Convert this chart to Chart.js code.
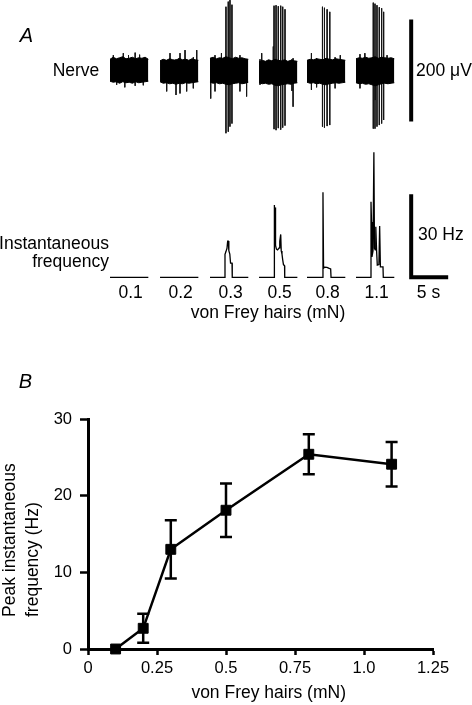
<!DOCTYPE html>
<html><head><meta charset="utf-8">
<script src="https://cdn.jsdelivr.net/npm/chart.js@4.4.1/dist/chart.umd.min.js"></script>
<style>
html,body{margin:0;padding:0;background:#fff;}
#wrap{position:relative;width:472px;height:705px;overflow:hidden;font-family:"Liberation Sans",Arial,Helvetica,sans-serif;color:#000;}
canvas{position:absolute;left:0;}
.t{position:absolute;white-space:nowrap;line-height:1;font-size:17.5px;transform:translate(-50%,-50%);}
</style></head><body>
<div id="wrap">
<canvas id="nerve" width="472" height="140" style="top:0px"></canvas>
<canvas id="freq" width="472" height="190" style="top:140px"></canvas>
<canvas id="peak" width="472" height="325" style="top:380px"></canvas>
</div>
<script>
// ---------------- DATA ----------------
// Panel A: von Frey hair forces (mN), one sweep each
const forceLabels = ['0.1', '0.2', '0.3', '0.5', '0.8', '1.1'];
const stimOnsetS = [0, 6.76, 13.51, 20.14, 26.62, 33.24];   // start of each sweep (s, display time)
const sweepS = 5.18;                                          // sweep length (s)

// nerve recording: envelope of background noise (µV), evenly sampled across each sweep
const nerveUpperUV = [
  [22, 26, 23, 25, 27, 23, 24, 26, 23, 25, 24, 26, 22],
  [19, 22, 20, 23, 21, 20, 24, 21, 22, 20, 23, 21, 20],
  [24, 26, 23, 25, 24, 27, 25, 23, 26, 24, 25, 23, 22],
  [17, 20, 18, 21, 19, 22, 20, 19, 21, 18, 20, 19, 18],
  [20, 22, 21, 23, 22, 21, 24, 22, 21, 23, 22, 21, 20],
  [23, 25, 24, 26, 24, 25, 27, 24, 26, 25, 24, 25, 23]
];
const nerveLowerUV = [
  [-21, -23, -22, -25, -22, -24, -23, -25, -22, -24, -23, -22, -21],
  [-22, -25, -24, -26, -25, -27, -25, -26, -24, -25, -24, -23, -22],
  [-23, -25, -24, -26, -25, -27, -28, -26, -25, -24, -26, -25, -23],
  [-24, -26, -25, -27, -26, -29, -30, -28, -27, -26, -27, -25, -24],
  [-23, -25, -24, -26, -25, -27, -28, -26, -25, -24, -25, -24, -23],
  [-24, -26, -25, -27, -26, -28, -30, -28, -26, -25, -26, -25, -24]
];
// individual spikes / noise excursions: [time in sweep (s), max µV, min µV]
const nerveSpikesUV = [
  [[0.45, 30, -18], [0.9, 20, -28], [1.8, 34, -18], [2.0, 20, -33], [2.5, 30, -20], [3.4, 35, -30], [4.0, 31, -20], [4.5, 22, -29]],
  [[0.9, 20, -41], [1.35, 34, -20], [2.16, 22, -48], [2.7, 34, -45], [3.38, 40, -20], [3.6, 22, -41], [4.5, 26, -35], [4.96, 40, -20]],
  [[0.1, 22, -55], [0.68, 30, -41], [1.55, 34, -22], [2.16, 125, -123], [2.47, 135, -120], [2.7, 138, -110], [2.97, 129, -104], [4.05, 30, -41], [4.95, 22, -51]],
  [[0.13, 22, -28], [0.36, 34, -22], [1.93, 47, -25], [2.03, 127, -115], [2.3, 128, -117], [2.6, 126, -113], [2.93, 127, -116], [3.2, 125, -112], [3.51, 120, -108], [4.45, 22, -40], [4.6, 24, -71]],
  [[0.6, 34, -38], [1.3, 24, -33], [2.09, 125, -110], [2.36, 123, -112], [2.72, 120, -109], [3.08, 115, -107], [3.8, 26, -35], [4.5, 30, -24]],
  [[0.54, 32, -35], [1.2, 34, -24], [2.34, 133, -114], [2.57, 131, -114], [2.6, 24, -58], [2.84, 128, -110], [3.15, 124, -107], [3.47, 122, -104], [3.74, 115, -97], [4.2, 30, -26]]
];
// instantaneous frequency traces: [time in sweep (s), Hz]
const instFreqHz = [
  [[0, 0], [5.18, 0]],
  [[0, 0], [5.18, 0]],
  [[0, 0], [2.03, 0], [2.03, 8.3], [2.16, 9.3], [2.3, 10.5], [2.39, 13.1], [2.47, 13.1], [2.55, 9.6], [2.68, 8.4], [2.78, 5.1], [2.98, 5.1], [3.01, 0], [5.18, 0]],
  [[0, 0], [2.03, 0], [2.03, 26.1], [2.12, 25.6], [2.16, 24.5], [2.2, 25.2], [2.26, 11.5], [2.35, 10.2], [2.5, 9.9], [2.72, 10.6], [2.8, 13.0], [2.93, 15.5], [3.0, 9.5], [3.1, 8.4], [3.2, 6.3], [3.3, 4.6], [3.45, 4.2], [3.47, 0], [5.18, 0]],
  [[0, 0], [2.16, 0], [2.16, 30.7], [2.24, 3.3], [2.4, 3.7], [2.7, 3.6], [3.0, 3.2], [3.2, 3.0], [3.25, 0], [5.18, 0]],
  [[0, 0], [2.03, 0], [2.03, 27.3], [2.1, 20], [2.16, 7.4], [2.3, 9.5], [2.42, 45.2], [2.5, 10.5], [2.6, 9.9], [2.68, 18.3], [2.78, 10], [2.88, 4.4], [3.1, 4.6], [3.2, 18.5], [3.3, 3.8], [3.65, 3.8], [3.69, 0], [5.18, 0]]
];
const nerveBarUV = 200, freqBarHz = 30, timeBarS = 5;

// Panel B: peak instantaneous frequency vs force (mean ± SEM)
const vonFreyMN = [0.1, 0.2, 0.3, 0.5, 0.8, 1.1];
const peakFreqHz = [0, 2.7, 13.0, 18.1, 25.4, 24.1];
const peakSemHz = [0, 1.9, 3.8, 3.5, 2.6, 2.9];
const xTickValues = [0, 0.25, 0.5, 0.75, 1.0, 1.25];
const xTickLabels = ['0', '0.25', '0.5', '0.75', '1.0', '1.25'];
const yTickValues = [0, 10, 20, 30];

// ---------------- LAYOUT ----------------
const FONT = '"Liberation Sans", Arial, Helvetica, sans-serif';
const PX_PER_S = 7.4, TRACE_LEFT_PX = 110;
const xMinS = -TRACE_LEFT_PX / PX_PER_S, xMaxS = xMinS + 472 / PX_PER_S;
const BAR_AT_S = 40.7;
const wrap = document.getElementById('wrap');

function addText(txt, x, y, style) {
  const d = document.createElement('div');
  d.className = 't';
  d.textContent = txt;
  d.style.left = x + 'px';
  d.style.top = y + 'px';
  Object.assign(d.style, style || {});
  wrap.appendChild(d);
  return d;
}

const baseOpts = (ymin, ymax) => ({
  responsive: false, animation: false, events: [],
  layout: { padding: 0 },
  plugins: { legend: { display: false }, tooltip: { enabled: false } },
  scales: {
    x: { type: 'linear', min: xMinS, max: xMaxS, display: false },
    y: { type: 'linear', min: ymin, max: ymax, display: false }
  }
});

// Nerve chart
const nerveSets = [];
stimOnsetS.forEach((t0, i) => {
  const n = nerveUpperUV[i].length;
  const tt = j => t0 + sweepS * j / (n - 1);
  nerveSets.push({ data: nerveUpperUV[i].map((v, j) => ({ x: tt(j), y: v })), fill: '+1',
    backgroundColor: '#000', borderColor: '#000', borderWidth: 1, pointRadius: 0 });
  nerveSets.push({ data: nerveLowerUV[i].map((v, j) => ({ x: tt(j), y: v })), fill: false,
    borderColor: '#000', borderWidth: 1, pointRadius: 0 });
  const sp = [];
  nerveSpikesUV[i].forEach(([t, hi, lo]) => { sp.push({ x: t0 + t, y: hi }, { x: t0 + t, y: lo }, { x: t0 + t, y: null }); });
  nerveSets.push({ data: sp, borderColor: '#151515', borderWidth: 1, pointRadius: 0, fill: false, spanGaps: false });
});
nerveSets.push({ data: [{ x: BAR_AT_S, y: -nerveBarUV / 2 }, { x: BAR_AT_S, y: nerveBarUV / 2 }],
  borderColor: '#000', borderWidth: 4, pointRadius: 0, fill: false });
new Chart(document.getElementById('nerve'), { type: 'line', data: { datasets: nerveSets },
  options: baseOpts(70.5 / 0.51 - 140 / 0.51, 70.5 / 0.51) });

// Frequency chart
const fPxPerHz = 83 / 30;
const freqSets = instFreqHz.map((pts, i) => ({ data: pts.map(([t, hz]) => ({ x: stimOnsetS[i] + t, y: hz })),
  borderColor: '#000', borderWidth: 1.3, pointRadius: 0, fill: false }));
freqSets.push({ data: [{ x: BAR_AT_S, y: freqBarHz }, { x: BAR_AT_S, y: 0 }, { x: BAR_AT_S + timeBarS, y: 0 }],
  borderColor: '#000', borderWidth: 4, borderJoinStyle: 'miter', pointRadius: 0, fill: false });
const freqChart = new Chart(document.getElementById('freq'), { type: 'line', data: { datasets: freqSets },
  options: baseOpts(137.3 / fPxPerHz - 190 / fPxPerHz, 137.3 / fPxPerHz) });

// Panel A texts
addText('A', 26.5, 35, { fontSize: '20px', fontStyle: 'italic' });
addText('Nerve', 76, 71);
addText('200 μV', 416, 70.5, { transform: 'translate(0,-50%)' });
addText('Instantaneous', 109, 243.5, { transform: 'translate(-100%,-50%)' });
addText('frequency', 109, 262, { transform: 'translate(-100%,-50%)' });
addText('30 Hz', 418, 234.5, { transform: 'translate(0,-50%)' });
addText('5 s', 428.5, 293);
const fx = freqChart.scales.x;
forceLabels.forEach((l, i) => addText(l, fx.getPixelForValue(stimOnsetS[i] + sweepS / 2) + 1.5, 293));
addText('von Frey hairs (mN)', 268, 312.5);

// Panel B
const errorBars = {
  id: 'errorBars',
  afterDatasetsDraw(chart) {
    const { ctx, scales: { x, y } } = chart;
    ctx.save();
    ctx.strokeStyle = '#000';
    ctx.lineWidth = 2.5;
    vonFreyMN.forEach((f, i) => {
      const s = peakSemHz[i];
      if (!s) return;
      const px = x.getPixelForValue(f);
      const top = y.getPixelForValue(peakFreqHz[i] + s);
      const bot = y.getPixelForValue(peakFreqHz[i] - s);
      ctx.beginPath();
      ctx.moveTo(px, top); ctx.lineTo(px, bot);
      ctx.moveTo(px - 6, top); ctx.lineTo(px + 6, top);
      ctx.moveTo(px - 6, bot); ctx.lineTo(px + 6, bot);
      ctx.stroke();
    });
    ctx.restore();
  }
};
new Chart(document.getElementById('peak'), {
  type: 'line',
  data: { datasets: [{
    data: vonFreyMN.map((f, i) => ({ x: f, y: peakFreqHz[i] })),
    borderColor: '#000', borderWidth: 2.5, tension: 0,
    pointStyle: 'rect', pointRadius: 7, pointBackgroundColor: '#000', pointBorderColor: '#000', pointBorderWidth: 1,
    clip: false, fill: false
  }] },
  options: {
    responsive: false, animation: false, events: [],
    layout: { padding: { top: 39, right: 39, left: 0, bottom: 0 } },
    plugins: { legend: { display: false }, tooltip: { enabled: false } },
    scales: {
      x: {
        type: 'linear', min: 0, max: 1.25,
        afterBuildTicks: s => { s.ticks = xTickValues.map(v => ({ value: v })); },
        afterFit: s => { s.height = 56; },
        ticks: { callback: (v, i) => xTickLabels[i], color: '#000', font: { family: FONT, size: 16.5 }, padding: 4, maxRotation: 0, autoSkip: false },
        grid: { display: true, drawOnChartArea: false, drawTicks: true, tickLength: 6, tickWidth: 2.5, tickColor: '#000' },
        border: { display: true, color: '#000', width: 3 }
      },
      y: {
        type: 'linear', min: 0, max: 30,
        afterBuildTicks: s => { s.ticks = yTickValues.map(v => ({ value: v })); },
        afterFit: s => { s.width = 88; },
        ticks: { color: '#000', font: { family: FONT, size: 16.5 }, padding: 8 },
        grid: { display: true, drawOnChartArea: false, drawTicks: true, tickLength: 8, tickWidth: 2.5, tickColor: '#000' },
        border: { display: true, color: '#000', width: 3 }
      }
    }
  },
  plugins: [errorBars]
});
addText('B', 25.5, 380.5, { fontSize: '20px', fontStyle: 'italic' });
addText('von Frey hairs (mN)', 268.7, 693.3);
const yt = addText('Peak instantaneous\nfrequency (Hz)', -2.2, 617, {
  transform: 'rotate(-90deg)', transformOrigin: '0 0', whiteSpace: 'pre', lineHeight: '23px', textAlign: 'left'
});
</script>
</body></html>
